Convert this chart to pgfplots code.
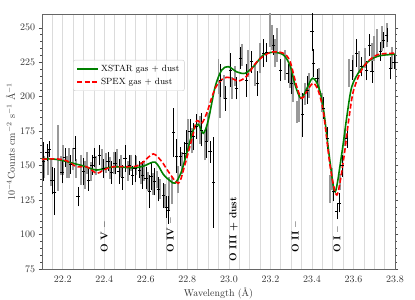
\documentclass[border=0pt]{standalone}
\usepackage{pgfplots}
\pgfplotsset{compat=1.18}
\usepackage{pgfplotstable}

\pgfplotstableread{
x y e
22.108 152.9 14
22.124 159.7 6
22.135 161.9 6
22.148 139.1 10
22.161 131 17
22.196 145.2 8
22.210 156 7
22.237 151 7
22.258 162.6 9
22.273 127.5 7
22.300 145.6 10
22.325 139.6 8
22.341 150.5 7
22.354 156 7
22.376 157.7 7
22.397 148 7
22.418 153 7
22.435 145 8
22.452 151.7 8
22.470 146 9
22.489 141.5 9
22.500 155.3 10
22.520 150.5 7
22.537 143 7
22.548 148 10
22.569 147 6
22.585 143.2 10
22.601 140.8 8
22.617 131.1 12
22.625 142 10
22.641 138.4 10
22.660 133 9
22.685 128.2 9
22.700 120 8
22.709 117.8 10
22.733 174 18
22.749 157 12
22.768 156.5 7
22.784 159 8
22.797 166.2 10
22.813 175 9
22.829 171 10
22.845 178.3 9
22.869 176 12
22.893 167.4 12
22.909 160.1 8
22.925 138 33
22.958 212 12
22.985 198.9 9
23.006 219.4 12
23.038 206 8
23.054 228 8
23.086 212 12
23.110 225.4 8
23.137 209.8 9
23.166 231.5 10
23.182 232 7
23.215 237.5 7
23.247 219.4 8
23.284 217 7
23.300 210 8
23.353 187 16
23.380 205 10
23.400 247.2 14
23.408 224.3 10
23.424 213.4 7
23.456 191.6 8
23.475 170 8
23.504 131.1 7
23.520 117 6
23.530 123 7
23.545 150 8
23.568 169.8 7
23.592 219.4 7
23.616 231.5 10
23.640 221.8 7
23.664 219 7
23.678 237.5 8
23.689 218.2 8
23.729 233 7
23.745 241 6
23.761 244.8 5
23.777 220.6 8
23.795 225 5
}\blackdata

\pgfplotstableread{
x y e
22.112 149.2 8
22.130 152 9
22.145 145 10
22.177 155.8 24
22.190 150 7
22.203 154 11
22.220 149 8
22.232 151.7 11
22.250 155 8
22.265 148 7
22.287 147 11
22.305 143 10
22.318 152 8
22.335 145.6 7
22.362 150 7
22.389 154 8
22.410 152 7
22.428 148 8
22.445 152 8
22.462 155 7
22.480 150 8
22.515 146 7
22.530 152 6
22.555 150 7
22.575 144.4 8
22.593 146 7
22.610 138.4 7
22.633 137 8
22.652 140 6
22.669 133 7
22.690 128 9
22.712 130 12
22.725 132 10
22.757 140 10
22.776 152 8
22.805 172 12
22.822 168 9
22.861 176 10
22.885 165 11
22.900 178 10
22.950 214.6 13
22.958 197.6 13
22.975 207 9
23.014 206 8
23.030 215 7
23.062 230.3 8
23.094 224 10
23.125 216 8
23.151 227.9 11
23.199 248.4 12
23.210 243 9
23.223 231.5 10
23.234 237.5 12
23.271 223 11
23.292 215 9
23.310 205 9
23.327 189.2 8
23.340 192 10
23.365 202 8
23.385 208 9
23.432 212.9 8
23.450 196 7
23.488 133 10
23.498 140 8
23.535 138 6
23.560 170 6
23.577 217 10
23.600 222.5 8
23.625 225 8
23.655 228 7
23.689 229 10
23.700 235 9
23.713 238.8 10
23.737 242.4 9
23.761 244.8 9
23.785 228 8
}\greydata

\pgfplotstableread{
x y
22.10 155
22.15 154.8
22.19 154
22.25 151.7
22.30 149.7
22.36 146.8
22.41 148.3
22.46 149.2
22.54 148.3
22.59 149.7
22.645 152.5
22.685 143.5
22.717 139
22.741 137.3
22.77 145
22.797 159
22.829 175.9
22.853 180
22.877 173.5
22.901 183
22.934 207.3
22.966 219.4
22.998 221.8
23.038 218
23.078 217
23.118 221.8
23.166 230.3
23.215 232.2
23.263 230.3
23.295 222.5
23.319 208.5
23.347 198.8
23.376 206.1
23.403 213.4
23.432 207.3
23.456 190.4
23.488 151.7
23.512 131
23.544 159
23.568 185.5
23.592 207.3
23.633 219.4
23.681 226.7
23.729 229.8
23.80 230.8
}\xstar

\pgfplotstableread{
x y
22.10 154.6
22.17 154.9
22.22 153.4
22.267 149.2
22.315 149.2
22.364 144.3
22.395 146.8
22.444 149.2
22.508 149.2
22.556 149.7
22.59 152.9
22.636 158.5
22.677 152.9
22.709 145.6
22.757 137.2
22.787 150
22.829 173.5
22.845 182.6
22.869 180.7
22.893 188
22.934 206.1
22.974 213.4
23.006 213.8
23.046 211.4
23.086 215
23.135 225.4
23.199 232.2
23.263 231.5
23.295 225.4
23.327 207.3
23.352 198.8
23.384 206.1
23.408 209.8
23.432 203.7
23.456 188
23.488 149.2
23.52 128.7
23.552 154.1
23.577 183
23.601 204.9
23.649 221.8
23.713 230.3
23.80 231.5
}\spex

\definecolor{mplgreen}{rgb}{0,0.5,0}
\definecolor{bargrey}{gray}{0.6}

\begin{document}
\begin{tikzpicture}
\useasboundingbox (-42bp,-31bp) rectangle (373bp,269bp);
\begin{axis}[
  at={(0,0)}, anchor=south west,
  scale only axis,
  width=353bp, height=255bp,
  xmin=22.1, xmax=23.8,
  ymin=75, ymax=260,
  xtick={22.2,22.4,...,23.81},
  minor xtick={22.1,22.15,...,23.81},
  xticklabel style={/pgf/number format/.cd,fixed,fixed zerofill,precision=1},
  ytick={75,100,...,250},
  minor y tick num=4,
  tick align=outside,
  x tick style={draw=none},
  y tick style={black!70, line width=0.5pt},
  major tick length=3.5pt,
  minor tick length=2pt,
  xmajorgrids, xminorgrids,
  major grid style={black!14, line width=0.6pt},
  minor grid style={black!14, line width=0.6pt},
  axis line style={black!60, line width=0.8pt},
  ticklabel style={black!80},
  xlabel={Wavelength (\AA)},
  ylabel={$10^{-4}$Counts cm$^{-2}$ s$^{-1}$ \AA$^{-1}$},
  label style={black!80},
  xlabel style={yshift=2pt},
  ylabel style={yshift=-2pt},
  clip=true,
  legend image code/.code={\draw[#1] (0cm,0cm) -- (0.75cm,0cm);},
  legend style={at={(0.088,0.82)}, anchor=north west, draw=black!20, rounded corners=2pt,
    fill=white, fill opacity=0.8, text opacity=1, font=\small, row sep=1pt, inner sep=3pt},
  legend cell align=left,
]
% data
\addplot[forget plot, color=bargrey, line width=2pt, quiver={u=0, v=2*\thisrow{e}}]
  table[x=x, y expr=\thisrow{y}-\thisrow{e}] {\greydata};
\addplot[forget plot, color=black, line width=0.6pt, quiver={u=0, v=2*\thisrow{e}}]
  table[x=x, y expr=\thisrow{y}-\thisrow{e}] {\blackdata};
\addplot[forget plot, only marks, mark=-, mark size=1.6pt, mark options={draw=black, line width=0.5pt}]
  table[x=x, y=y] {\blackdata};
% models
\addplot[mplgreen, line width=1.6pt, smooth, tension=0.5, mark=none]
  table[x=x, y=y] {\xstar};
\addlegendentry{XSTAR gas + dust}
\addplot[red, line width=1.6pt, smooth, tension=0.5, mark=none, dash pattern=on 5pt off 2.5pt]
  table[x=x, y=y] {\spex};
\addlegendentry{SPEX gas + dust}

\node[rotate=90, anchor=west, font=\bfseries, inner sep=0pt] at (axis cs:22.40,86.6) {O V --};
\node[rotate=90, anchor=west, font=\bfseries, inner sep=0pt] at (axis cs:22.717,86.6) {O IV --};
\node[rotate=90, anchor=west, font=\bfseries, inner sep=0pt] at (axis cs:23.022,80.3) {O III + dust};
\node[rotate=90, anchor=west, font=\bfseries, inner sep=0pt] at (axis cs:23.319,86.6) {O II --};
\node[rotate=90, anchor=west, font=\bfseries, inner sep=0pt] at (axis cs:23.52,86.6) {O I --};
\end{axis}
\end{tikzpicture}
\end{document}
